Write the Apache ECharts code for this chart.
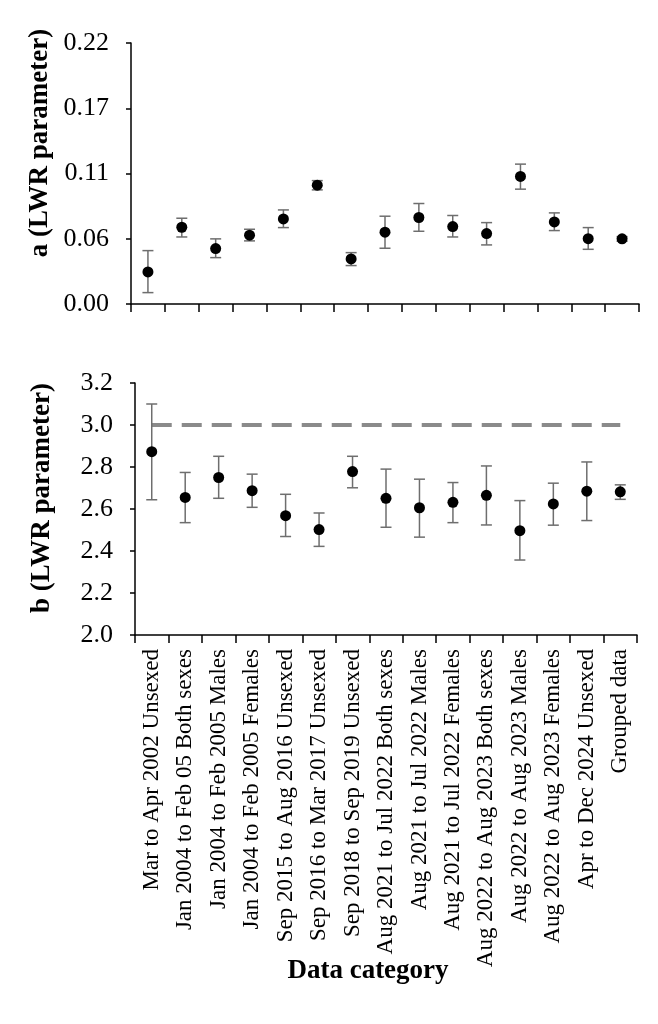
<!DOCTYPE html>
<html>
<head>
<meta charset="utf-8">
<script src="https://cdn.jsdelivr.net/npm/echarts@6/dist/echarts.min.js"></script>
<style>
html,body{margin:0;padding:0;background:#fff;}
#chart{width:658px;height:1024px;}
</style>
</head>
<body>
<div id="chart"></div>
<script>
const categories = [
  'Mar to Apr 2002 Unsexed',
  'Jan 2004 to Feb 05 Both sexes',
  'Jan 2004 to Feb 2005 Males',
  'Jan 2004 to Feb 2005 Females',
  'Sep 2015 to Aug 2016 Unsexed',
  'Sep 2016 to Mar 2017 Unsexed',
  'Sep 2018 to Sep 2019 Unsexed',
  'Aug 2021 to Jul 2022 Both sexes',
  'Aug 2021 to Jul 2022 Males',
  'Aug 2021 to Jul 2022 Females',
  'Aug 2022 to Aug 2023 Both sexes',
  'Aug 2022 to Aug 2023 Males',
  'Aug 2022 to Aug 2023 Females',
  'Apr to Dec 2024 Unsexed',
  'Grouped data'
];
const aValues = [0.027, 0.0647, 0.0467, 0.058, 0.0717, 0.1002, 0.038, 0.0605, 0.0729, 0.0653, 0.0594, 0.1075, 0.0692, 0.0551, 0.0549];
const aLower  = [0.0096, 0.0565, 0.0391, 0.0532, 0.0644, 0.0962, 0.0324, 0.047, 0.0613, 0.0565, 0.0498, 0.0968, 0.0619, 0.0461, 0.0529];
const aUpper  = [0.045, 0.0723, 0.0549, 0.063, 0.0793, 0.104, 0.0433, 0.074, 0.0847, 0.0746, 0.0686, 0.1179, 0.0768, 0.0644, 0.0568];
const bValues = [2.873, 2.655, 2.750, 2.687, 2.568, 2.502, 2.778, 2.651, 2.606, 2.632, 2.665, 2.497, 2.624, 2.685, 2.682];
const bLower  = [2.644, 2.535, 2.651, 2.608, 2.469, 2.422, 2.701, 2.513, 2.466, 2.535, 2.524, 2.357, 2.523, 2.545, 2.646];
const bUpper  = [3.100, 2.774, 2.851, 2.766, 2.670, 2.581, 2.851, 2.790, 2.742, 2.726, 2.805, 2.640, 2.723, 2.824, 2.715];
const bReference = 3.0;
const aTickLabels = ['0.00', '0.06', '0.11', '0.17', '0.22'];
const bTickLabels = ['2.0', '2.2', '2.4', '2.6', '2.8', '3.0', '3.2'];

const FONT = '"Liberation Serif", "Times New Roman", serif';
const chart = echarts.init(document.getElementById('chart'), null, {renderer: 'canvas'});

function errorSeries(xi, yi, lower, upper) {
  return {
    type: 'custom',
    xAxisIndex: xi, yAxisIndex: yi,
    silent: true,
    z: 2,
    data: categories.map((c, i) => [i, lower[i], upper[i]]),
    renderItem: function (params, api) {
      const lo = api.coord([api.value(0), api.value(1)]);
      const hi = api.coord([api.value(0), api.value(2)]);
      const w = 5.5;
      const style = {stroke: '#6e6e6e', lineWidth: 1.5, fill: null};
      return {
        type: 'group',
        children: [
          {type: 'line', shape: {x1: lo[0], y1: lo[1], x2: hi[0], y2: hi[1]}, style: style},
          {type: 'line', shape: {x1: lo[0] - w, y1: lo[1], x2: lo[0] + w, y2: lo[1]}, style: style},
          {type: 'line', shape: {x1: hi[0] - w, y1: hi[1], x2: hi[0] + w, y2: hi[1]}, style: style}
        ]
      };
    }
  };
}

const axisLineStyle = {show: true, lineStyle: {color: '#000', width: 1.5}};

const option = {
  backgroundColor: '#fff',
  animation: false,
  grid: [
    {left: 131, right: 19, top: 43, height: 261},
    {left: 135, right: 21, top: 383, height: 252}
  ],
  xAxis: [
    {
      gridIndex: 0, type: 'category', data: categories, boundaryGap: true,
      axisLine: axisLineStyle,
      axisTick: {show: true, interval: 0, length: 8, lineStyle: {color: '#000', width: 1.5}},
      axisLabel: {show: false},
      splitLine: {show: false}
    },
    {
      gridIndex: 1, type: 'category', data: categories, boundaryGap: true,
      axisLine: axisLineStyle,
      axisTick: {show: true, interval: 0, length: 8, lineStyle: {color: '#000', width: 1.5}},
      axisLabel: {show: true, interval: 0, rotate: 90, margin: 14, color: '#000', fontFamily: FONT, fontSize: 23},
      splitLine: {show: false}
    }
  ],
  yAxis: [
    {
      gridIndex: 0, type: 'value', min: 0, max: 0.22, interval: 0.055,
      axisLine: axisLineStyle,
      axisTick: {show: true, length: 5, lineStyle: {color: '#000', width: 1.5}},
      splitLine: {show: false},
      axisLabel: {color: '#000', fontFamily: FONT, fontSize: 26, margin: 22,
        formatter: function (v) { return aTickLabels[Math.round(v / 0.055)]; }}
    },
    {
      gridIndex: 1, type: 'value', min: 2.0, max: 3.2, interval: 0.2,
      axisLine: axisLineStyle,
      axisTick: {show: true, length: 5, lineStyle: {color: '#000', width: 1.5}},
      splitLine: {show: false},
      axisLabel: {color: '#000', fontFamily: FONT, fontSize: 26, margin: 22,
        formatter: function (v) { return bTickLabels[Math.round((v - 2.0) / 0.2)]; }}
    }
  ],
  graphic: [
    {type: 'text', x: 40, y: 143, rotation: Math.PI / 2,
      style: {text: 'a (LWR parameter)', fill: '#000', font: 'bold 27px ' + FONT, align: 'center', verticalAlign: 'middle'}},
    {type: 'text', x: 42, y: 498, rotation: Math.PI / 2,
      style: {text: 'b (LWR parameter)', fill: '#000', font: 'bold 27px ' + FONT, align: 'center', verticalAlign: 'middle'}},
    {type: 'text', x: 368, y: 971,
      style: {text: 'Data category', fill: '#000', font: 'bold 27px ' + FONT, align: 'center', verticalAlign: 'middle'}}
  ],
  series: [
    errorSeries(0, 0, aLower, aUpper),
    {type: 'scatter', xAxisIndex: 0, yAxisIndex: 0, data: aValues, symbol: 'circle', symbolSize: 11,
      itemStyle: {color: '#000', opacity: 1}, z: 3},
    {type: 'line', xAxisIndex: 1, yAxisIndex: 1, data: categories.map(() => bReference), symbol: 'none',
      lineStyle: {color: '#8a8a8a', width: 4, type: [20, 10], cap: 'butt'}, z: 1, silent: true},
    errorSeries(1, 1, bLower, bUpper),
    {type: 'scatter', xAxisIndex: 1, yAxisIndex: 1, data: bValues, symbol: 'circle', symbolSize: 11,
      itemStyle: {color: '#000', opacity: 1}, z: 3}
  ]
};
chart.setOption(option);
</script>
</body>
</html>
